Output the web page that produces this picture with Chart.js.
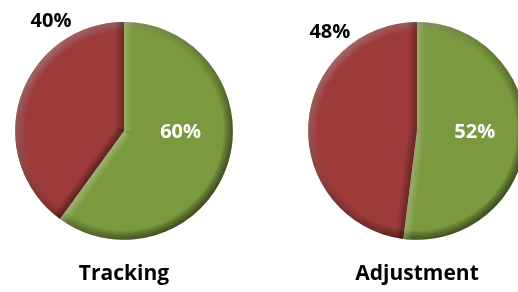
<!DOCTYPE html>
<html>
<head>
<meta charset="utf-8">
<title>Tracking / Adjustment</title>
<script src="https://cdn.jsdelivr.net/npm/chart.js@4.4.1/dist/chart.umd.min.js"></script>
<style>
    html, body { margin: 0; padding: 0; background: #fff; width: 518px; height: 292px; overflow: hidden; }
    .pastel { position: absolute; top: 0; width: 260px; height: 292px; }
</style>
</head>
<body>
<div class="pastel" style="left:-6px"><canvas id="grafica-tracking" width="260" height="292"></canvas></div>
<div class="pastel" style="left:287px"><canvas id="grafica-adjustment" width="260" height="292"></canvas></div>
<script>
// Datos de las gráficas
const categorias = ['Sí', 'No'];
const titulos = ['Tracking', 'Adjustment'];
const valoresTracking = [60, 40];
const valoresAdjustment = [52, 48];

// Colores de las porciones y de sus etiquetas
const colores = ['#7B9A3F', '#9C3B3A'];
const coloresEtiqueta = ['#ffffff', '#000000'];

// Trazo suave en capas (más intenso junto al borde)
function trazoSuave(ctx, trazar, estilo, ancho, capas = 6) {
    for (let k = 1; k <= capas; k++) {
        ctx.beginPath();
        trazar();
        ctx.lineWidth = 2 * ancho * k / capas;
        ctx.strokeStyle = estilo;
        ctx.stroke();
    }
}

// Plugin: bisel en los bordes de cada porción (luz desde arriba a la izquierda)
const biselPlugin = {
    id: 'bisel',
    afterDatasetsDraw(chart) {
        const ctx = chart.ctx;
        const anguloLuz = -3 * Math.PI / 4;
        const luz = [Math.cos(anguloLuz), Math.sin(anguloLuz)];
        chart.getDatasetMeta(0).data.forEach((arco) => {
            const { x, y, startAngle, endAngle, outerRadius } = arco;
            const r = outerRadius;
            ctx.save();
            ctx.beginPath();
            ctx.moveTo(x, y);
            ctx.arc(x, y, r, startAngle, endAngle);
            ctx.closePath();
            ctx.clip();

            // Borde exterior con degradado cónico según la luz
            const trazarBorde = () => ctx.arc(x, y, r, startAngle, endAngle);
            const claro = ctx.createConicGradient(anguloLuz, x, y);
            [[0, 0.06], [0.125, 0.04], [0.25, 0], [0.75, 0], [0.875, 0.04], [1, 0.06]]
                .forEach(([t, a]) => claro.addColorStop(t, `rgba(255,255,255,${a})`));
            trazoSuave(ctx, trazarBorde, claro, 9);
            const oscuro = ctx.createConicGradient(anguloLuz, x, y);
            [[0, 0.025], [0.25, 0.035], [0.375, 0.085], [0.5, 0.11], [0.625, 0.085], [0.75, 0.035], [1, 0.025]]
                .forEach(([t, a]) => oscuro.addColorStop(t, `rgba(0,0,0,${a})`));
            trazoSuave(ctx, trazarBorde, oscuro, 9);

            // Bordes radiales
            [[startAngle, -Math.PI / 2], [endAngle, Math.PI / 2]].forEach(([a, giro]) => {
                const s = Math.cos(a + giro) * luz[0] + Math.sin(a + giro) * luz[1];
                const trazar = () => {
                    ctx.moveTo(x, y);
                    ctx.lineTo(x + r * Math.cos(a), y + r * Math.sin(a));
                };
                const estilo = s >= 0
                    ? `rgba(255,255,255,${(0.05 * s).toFixed(3)})`
                    : `rgba(0,0,0,${(-0.07 * s).toFixed(3)})`;
                trazoSuave(ctx, trazar, estilo, 8);
            });
            ctx.restore();
        });
    }
};

// Plugin: etiquetas de porcentaje
const etiquetasPlugin = {
    id: 'etiquetas',
    afterDatasetsDraw(chart, args, opciones) {
        const ctx = chart.ctx;
        const datos = chart.data.datasets[0].data;
        const total = datos.reduce((suma, v) => suma + v, 0);
        chart.getDatasetMeta(0).data.forEach((arco, i) => {
            const pos = opciones.posiciones[i];
            const r = arco.outerRadius;
            ctx.save();
            ctx.font = 'bold 20px "Open Sans"';
            ctx.fillStyle = coloresEtiqueta[i];
            ctx.textAlign = 'center';
            ctx.textBaseline = 'middle';
            ctx.fillText(Math.round(datos[i] / total * 100) + '%', arco.x + pos[0] * r, arco.y + pos[1] * r);
            ctx.restore();
        });
    }
};

// Función para crear cada gráfica de pastel
function crearPastel(idCanvas, titulo, valores, posiciones) {
    const ctx = document.getElementById(idCanvas).getContext('2d');
    return new Chart(ctx, {
        type: 'pie',
        data: {
            labels: categorias,
            datasets: [{
                data: valores,
                backgroundColor: colores,
                borderWidth: 0
            }]
        },
        options: {
            responsive: false,
            animation: false,
            layout: { padding: { top: 22, left: 21, right: 21, bottom: 0 } },
            plugins: {
                legend: { display: false },
                tooltip: { enabled: false },
                title: {
                    display: true,
                    text: titulo,
                    position: 'bottom',
                    color: '#000',
                    font: { family: '"Open Sans"', size: 21, weight: 'bold' },
                    padding: { top: 22, bottom: 5 }
                },
                etiquetas: { posiciones: posiciones }
            }
        },
        plugins: [biselPlugin, etiquetasPlugin]
    });
}

crearPastel('grafica-tracking', titulos[0], valoresTracking, [[0.52, 0.01], [-0.67, -1.01]]);
crearPastel('grafica-adjustment', titulos[1], valoresAdjustment, [[0.53, 0.01], [-0.80, -0.91]]);
</script>
</body>
</html>
